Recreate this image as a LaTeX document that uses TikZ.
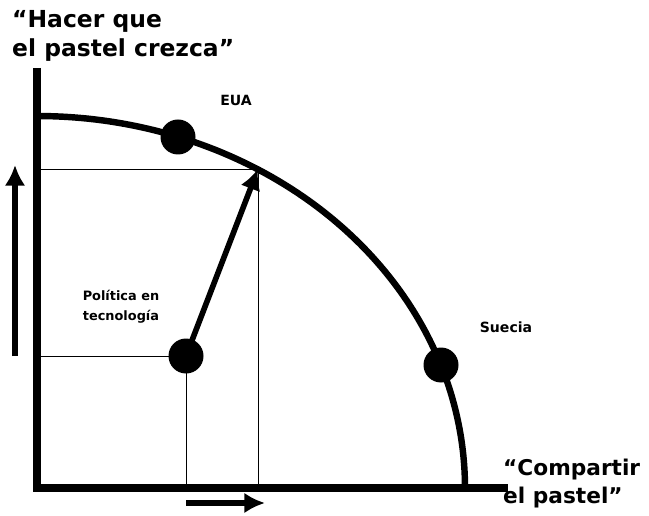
\documentclass[tikz,border=0pt]{standalone}
\usepackage{fontspec}
\setmainfont{DejaVu Sans}
\usetikzlibrary{positioning,arrows.meta,calc}

\begin{document}
\begin{tikzpicture}[>=Latex,x=0.03cm,y=-0.03cm,
  punto/.style={circle,fill=black,inner sep=0pt,minimum width=1.05cm,minimum height=1cm},
  guia/.style={line width=0.8pt},
  flecha/.style={line width=4.8pt,-{Latex[length=0.62cm,width=0.62cm]}},
  grande/.style={font=\bfseries\fontsize{20}{25}\selectfont,align=left,anchor=north west,inner sep=0pt},
  chico/.style={font=\bfseries\fontsize{12}{14}\selectfont}]
  \useasboundingbox (0,0) rectangle (649,516);
  \def\rx{428} \def\ry{372}
  % ejes
  \coordinate (O) at (37,488);
  \coordinate (ytop) at (37,68);
  \coordinate (xend) at (508,488);
  \draw[line width=7pt] (ytop) -- (O) -- (xend);
  % frontera
  \draw[line width=5.5pt,smooth,samples=80,domain=0:90] plot ({37+\rx*cos(\x)},{488-\ry*sin(\x)});
  \coordinate (P) at (258,169);
  \coordinate (Px) at (258,488);
  \coordinate (Py) at (37,169);
  % puntos
  \node[punto] (eua) at (178,137) {};
  \node[punto] (suecia) at (441,365) {};
  \node[punto] (pol) at (186,356) {};
  \coordinate (polx) at (186,488);
  \coordinate (poly) at (37,356);
  \draw[guia] (Py) -- (P) -- (Px);
  \draw[guia] (poly) -- (pol.center) -- (polx);
  \draw[flecha] (pol.center) -- (P);
  % flechas de los ejes
  \coordinate (a1) at (15,356);
  \coordinate (a2) at (15,165);
  \draw[flecha] (a1) -- (a2);
  \coordinate (b1) at (186,503);
  \coordinate (b2) at (265,503);
  \draw[flecha] (b1) -- (b2);
  % textos
  \node[grande] (tcrece) at (12,10) {``Hacer que\\el pastel crezca''};
  \node[grande,font=\bfseries\fontsize{18.5}{24}\selectfont] (tcomp) at (503,459) {``Compartir\\el pastel''};
  \node[chico] (teua) at (236,100) {EUA};
  \node[chico] (tsue) at (506,327) {Suecia};
  \node[chico,font=\bfseries\fontsize{11}{17}\selectfont,align=center] (tpol) at (121,307) {Política en\\tecnología};
\end{tikzpicture}
\end{document}
